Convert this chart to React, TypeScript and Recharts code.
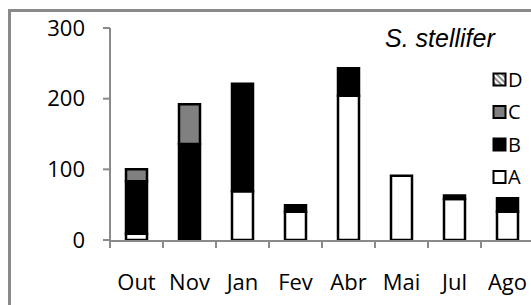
import React from 'react';
import { BarChart, Bar, XAxis, YAxis, Legend } from 'recharts';

const months = ['Out', 'Nov', 'Jan', 'Fev', 'Abr', 'Mai', 'Jul', 'Ago'];
const seriesA = [9, 0, 69, 40, 204, 91, 58, 40];
const seriesB = [74, 136, 152, 9, 39, 0, 5, 19];
const seriesC = [17, 56, 0, 0, 0, 0, 0, 0];
const seriesD = [0, 0, 0, 0, 0, 0, 0, 0];
const yTicks = [0, 100, 200, 300];
const boundaryTicks = [0, 1, 2, 3, 4, 5, 6, 7, 8];
const legendNames = ['D', 'C', 'B', 'A'];
const title = 'S. stellifer';

const data = months.map((m, i) => ({
  month: m,
  pos: i + 0.5,
  A: seriesA[i],
  B: seriesB[i],
  C: seriesC[i],
  D: seriesD[i],
}));

const AXIS = '#8a8a8a';
const FONT = '"Open Sans", sans-serif';

const fills: Record<string, string> = {
  A: '#ffffff',
  B: '#000000',
  C: '#808080',
  D: 'url(#hatchD)',
};

const LegendBox = () => (
  <svg width={170} height={200} style={{ display: 'block', overflow: 'visible' }}>
    <defs>
      <pattern id="hatchD" patternUnits="userSpaceOnUse" width="4" height="4" patternTransform="rotate(-45)">
        <rect width="4" height="4" fill="#ffffff" />
        <rect width="2" height="4" fill="#8a8a8a" />
      </pattern>
    </defs>
    <text x={15} y={46.5} fontFamily='"Liberation Sans", Arial, sans-serif' fontStyle="italic" fontSize={25} fill="#000">
      {title}
    </text>
    {legendNames.map((n, i) => {
      const cy = 79.5 + i * 32.5;
      return (
        <g key={n}>
          <rect x={123.5} y={cy - 6} width={12} height={12} fill={fills[n]} stroke="#000" strokeWidth={2} />
          <text x={138} y={cy} dy="0.36em" fontFamily={FONT} fontSize={20} fill="#000">
            {n}
          </text>
        </g>
      );
    })}
  </svg>
);

const EmptyTick = () => <g />;

export default function App() {
  return (
    <div style={{ position: 'fixed', left: 0, top: 0, width: 531, height: 305, overflow: 'hidden', background: '#fff' }}>
      <div
        style={{
          position: 'absolute',
          left: 8,
          top: 9,
          width: 700,
          height: 400,
          borderLeft: `3px solid ${AXIS}`,
          borderTop: `3px solid ${AXIS}`,
        }}
      />
      <div style={{ position: 'absolute', left: 0, top: 0 }}>
        <BarChart width={534} height={305} data={data} margin={{ top: 28, right: 0, bottom: 63, left: 0 }}>
          <YAxis
            type="number"
            width={110}
            domain={[0, 300]}
            ticks={yTicks}
            interval={0}
            axisLine={{ stroke: AXIS, strokeWidth: 2 }}
            tickLine={{ stroke: AXIS, strokeWidth: 2 }}
            tickSize={7}
            tickMargin={18}
            tick={{ fill: '#000', fontSize: 22, fontFamily: FONT }}
          />
          <Bar dataKey="A" stackId="s" fill={fills.A} stroke="#000" strokeWidth={2.5} barSize={21} isAnimationActive={false} />
          <Bar dataKey="B" stackId="s" fill={fills.B} stroke="#000" strokeWidth={2.5} barSize={21} isAnimationActive={false} />
          <Bar dataKey="C" stackId="s" fill={fills.C} stroke="#000" strokeWidth={2.5} barSize={21} isAnimationActive={false} />
          <Bar dataKey="D" stackId="s" fill={fills.D} stroke="#000" strokeWidth={2.5} barSize={21} isAnimationActive={false} />
          <XAxis
            xAxisId="lines"
            type="number"
            dataKey="pos"
            domain={[0, 8]}
            ticks={boundaryTicks}
            interval={0}
            height={1}
            allowDataOverflow
            axisLine={{ stroke: AXIS, strokeWidth: 2 }}
            tickLine={{ stroke: AXIS, strokeWidth: 2 }}
            tickSize={7}
            tick={<EmptyTick />}
          />
          <XAxis
            dataKey="month"
            height={1}
            interval={0}
            axisLine={false}
            tickLine={false}
            tickSize={34}
            tickMargin={0}
            tick={{ fill: '#000', fontSize: 22, fontFamily: FONT }}
          />
          <Legend
            layout="vertical"
            align="center"
            verticalAlign="middle"
            content={() => <LegendBox />}
            wrapperStyle={{ position: 'absolute', left: 370, top: 0, width: 170, height: 200 }}
          />
        </BarChart>
      </div>
    </div>
  );
}
